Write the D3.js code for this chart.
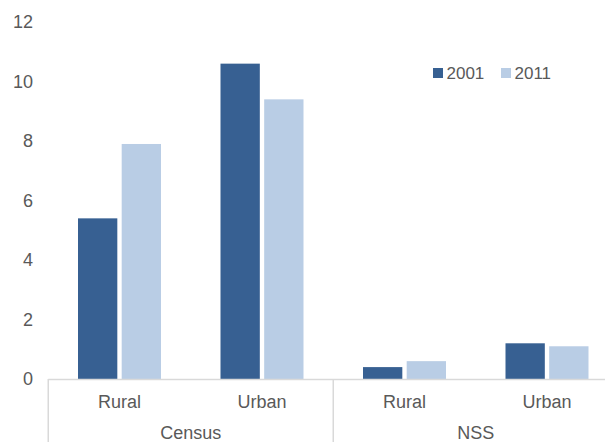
<!DOCTYPE html>
<html>
<head>
<meta charset="utf-8">
<script src="https://cdn.jsdelivr.net/npm/d3@7"></script>
<style>
  html, body { margin: 0; padding: 0; background: #fff; }
  svg { display: block; font-family: "Liberation Sans", Arial, sans-serif; }
</style>
</head>
<body>
<svg id="chart" width="605" height="442"></svg>
<script>
// Data
const groups = ["Census", "NSS"];
const categories = ["Rural", "Urban"];
const series = ["2001", "2011"];
const values2001 = [5.4, 10.6, 0.4, 1.2];
const values2011 = [7.9, 9.4, 0.6, 1.1];
const yTicks = [0, 2, 4, 6, 8, 10, 12];
const colors = ["#376092", "#b9cde5"];

const svg = d3.select("#chart");
const W = 605, H = 442;
const textColor = "#595959";
const axisColor = "#d9d9d9";
const fontSize = 18;
const legendFontSize = 17;

// Composite category keys
const keys = [];
groups.forEach(g => categories.forEach(c => keys.push(g + "|" + c)));

const rows = keys.map((k, i) => ({ key: k, group: k.split("|")[0], cat: k.split("|")[1], vals: [values2001[i], values2011[i]] }));

const left = 48.25, catStep = 142.5;
const right = left + catStep * keys.length;
const pad = 1 - 83 / catStep;

const x0 = d3.scaleBand().domain(keys).range([left, right]).paddingInner(pad).paddingOuter(pad / 2);
const x1 = d3.scaleBand().domain(series).range([0, x0.bandwidth()]).paddingInner(0.1);
const xg = d3.scaleBand().domain(groups).range([left, right]);
const y = d3.scaleLinear().domain([0, 12]).range([379, 22]);

// Y tick labels
svg.append("g").selectAll("text").data(yTicks).join("text")
  .attr("x", 33).attr("y", d => y(d)).attr("dy", "0.35em")
  .attr("text-anchor", "end").attr("fill", textColor).attr("font-size", fontSize)
  .text(d => d);

// Bars
const gBars = svg.append("g");
rows.forEach(r => {
  gBars.append("g").attr("transform", `translate(${x0(r.key)},0)`)
    .selectAll("rect").data(series.map((s, i) => ({ s, v: r.vals[i], i }))).join("rect")
    .attr("x", d => x1(d.s)).attr("width", x1.bandwidth())
    .attr("y", d => y(d.v)).attr("height", d => y(0) - y(d.v))
    .attr("fill", d => colors[d.i]);
});

// Axis line
svg.append("line").attr("x1", left).attr("x2", W).attr("y1", y(0) + 0.5).attr("y2", y(0) + 0.5)
  .attr("stroke", axisColor).attr("stroke-width", 1.5);

// Group separators
svg.append("g").selectAll("line").data(groups).join("line")
  .attr("x1", d => xg(d)).attr("x2", d => xg(d))
  .attr("y1", y(0)).attr("y2", H)
  .attr("stroke", axisColor).attr("stroke-width", 1.5);

// Category labels
svg.append("g").selectAll("text").data(rows).join("text")
  .attr("x", d => x0(d.key) + x0.bandwidth() / 2).attr("y", 408)
  .attr("text-anchor", "middle").attr("fill", textColor).attr("font-size", fontSize)
  .text(d => d.cat);

// Group labels
svg.append("g").selectAll("text").data(groups).join("text")
  .attr("x", d => xg(d) + xg.bandwidth() / 2).attr("y", 439)
  .attr("text-anchor", "middle").attr("fill", textColor).attr("font-size", fontSize)
  .text(d => d);

// Legend
const legendX = [433, 501];
const lg = svg.append("g").selectAll("g").data(series).join("g")
  .attr("transform", (d, i) => `translate(${legendX[i]},68)`);
lg.append("rect").attr("width", 10).attr("height", 10).attr("fill", (d, i) => colors[i]);
lg.append("text").attr("x", 13.5).attr("y", 11).attr("fill", textColor).attr("font-size", legendFontSize).text(d => d);
</script>
</body>
</html>
